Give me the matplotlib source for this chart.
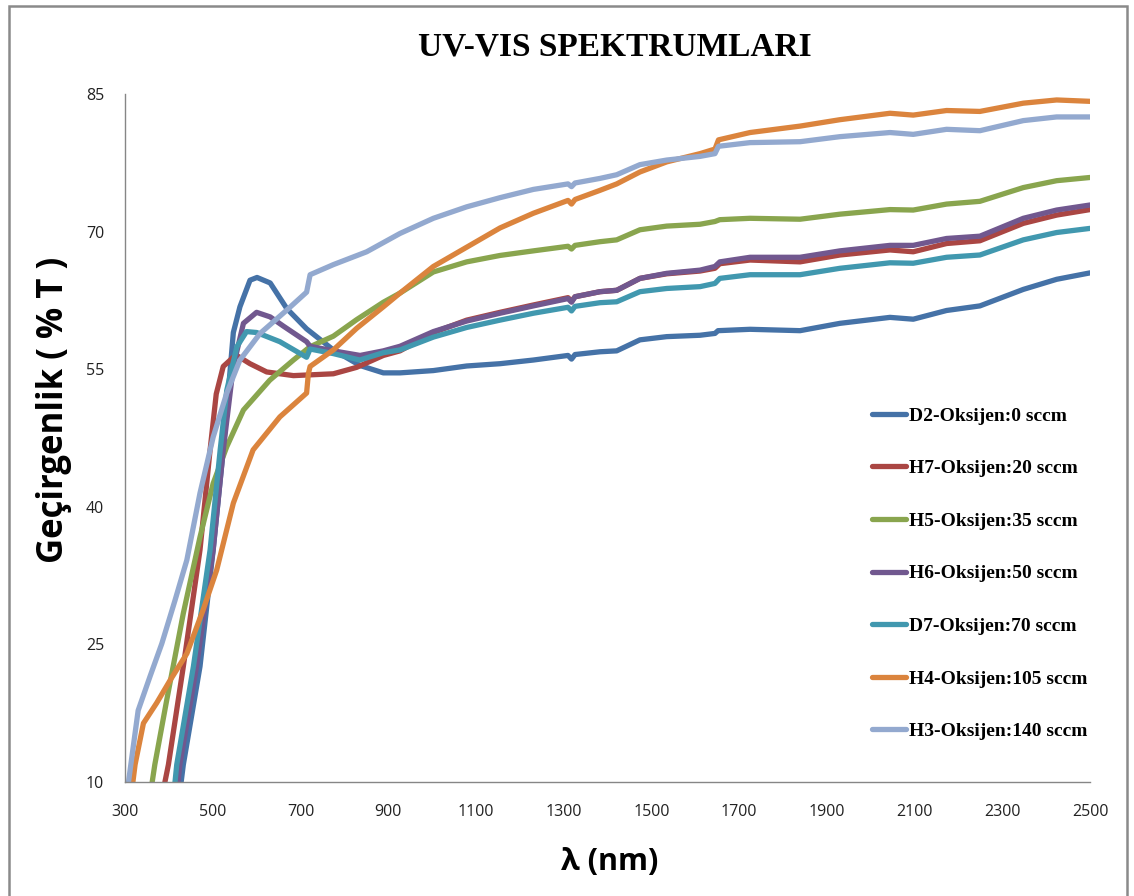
import matplotlib
matplotlib.use("Agg")
import matplotlib.pyplot as plt
from matplotlib.patches import Rectangle

# wavelength (nm) / transmittance (%T), one pair per sample
lam_d2 = [428, 433, 471, 501, 524, 539, 547, 562, 585, 601, 631, 669, 714, 775, 836, 889, 927, 1003, 1079,
          1155, 1231, 1310, 1318, 1326, 1383, 1421, 1474, 1535, 1611, 1645, 1652, 1725, 1839, 1930, 2044,
          2097, 2173, 2249, 2348, 2424, 2500]
t_d2 = [10, 11.9, 22.6, 35.3, 46.2, 54.5, 59.0, 61.8, 64.7, 65.0, 64.4, 61.6, 59.4, 57.1, 55.4, 54.6, 54.6,
        54.85, 55.35, 55.6, 56.0, 56.5, 56.1, 56.6, 56.9, 57.0, 58.2, 58.55, 58.7, 58.9, 59.2, 59.35, 59.2,
        60.0, 60.65, 60.45, 61.4, 61.9, 63.7, 64.8, 65.5]

lam_h7 = [391, 399, 433, 471, 494, 508, 524, 547, 558, 585, 623, 684, 775, 828, 889, 927, 1003, 1079, 1155,
          1231, 1310, 1318, 1326, 1383, 1421, 1474, 1535, 1611, 1645, 1656, 1725, 1839, 1930, 2044, 2097,
          2173, 2249, 2348, 2424, 2500]
t_h7 = [10, 11.9, 22.6, 35.3, 46.2, 52.3, 55.3, 56.3, 56.4, 55.6, 54.7, 54.3, 54.5, 55.2, 56.5, 57.0, 59.0,
        60.35, 61.2, 62.0, 62.8, 62.4, 62.9, 63.45, 63.6, 64.9, 65.4, 65.7, 66.0, 66.5, 66.9, 66.7, 67.45,
        68.0, 67.8, 68.7, 69.0, 70.9, 71.8, 72.4]

lam_h5 = [362, 368, 395, 433, 471, 501, 532, 570, 630, 684, 722, 775, 828, 889, 927, 1003, 1079, 1155, 1231,
          1310, 1318, 1326, 1383, 1421, 1474, 1535, 1611, 1645, 1656, 1725, 1839, 1930, 2044, 2097, 2173,
          2249, 2348, 2424, 2500]
t_h5 = [10, 11.9, 18.9, 28.4, 36.7, 42.55, 46.55, 50.55, 53.8, 56.0, 57.45, 58.6, 60.4, 62.3, 63.3, 65.6,
        66.7, 67.4, 67.9, 68.4, 68.1, 68.5, 68.9, 69.1, 70.2, 70.6, 70.8, 71.1, 71.3, 71.45, 71.35, 71.9,
        72.4, 72.35, 73.0, 73.3, 74.8, 75.55, 75.9]

lam_h6 = [421, 425, 463, 501, 524, 547, 570, 600, 631, 661, 714, 722, 775, 836, 889, 927, 1003, 1079, 1155,
          1231, 1310, 1318, 1326, 1383, 1421, 1474, 1535, 1611, 1645, 1656, 1725, 1839, 1930, 2044, 2097,
          2173, 2249, 2348, 2424, 2500]
t_h6 = [10, 11.9, 22.6, 35.3, 46.2, 55.3, 60.0, 61.2, 60.7, 59.7, 58.0, 57.5, 57.0, 56.5, 57.0, 57.5, 59.1,
        60.25, 61.1, 61.9, 62.7, 62.3, 62.9, 63.45, 63.6, 64.9, 65.45, 65.8, 66.2, 66.7, 67.2, 67.2, 67.9,
        68.5, 68.5, 69.25, 69.5, 71.45, 72.35, 72.9]

lam_d7 = [414, 418, 456, 494, 517, 532, 555, 577, 600, 653, 714, 722, 775, 835, 889, 927, 1003, 1079, 1155,
          1231, 1310, 1318, 1326, 1383, 1421, 1474, 1535, 1611, 1645, 1656, 1725, 1839, 1930, 2044, 2097,
          2173, 2249, 2348, 2424, 2500]
t_d7 = [10, 11.9, 22.6, 35.3, 46.2, 52.7, 57.45, 59.1, 59.0, 58.0, 56.3, 57.2, 56.7, 56.0, 56.8, 57.1, 58.5,
        59.55, 60.35, 61.1, 61.75, 61.35, 61.85, 62.25, 62.35, 63.45, 63.8, 64.0, 64.35, 64.9, 65.3, 65.3,
        66.0, 66.6, 66.55, 67.2, 67.45, 69.1, 69.9, 70.35]

lam_h4 = [318, 323, 342, 372, 403, 441, 478, 509, 547, 592, 653, 714, 718, 722, 775, 828, 889, 927, 1003,
          1079, 1155, 1231, 1310, 1318, 1326, 1383, 1421, 1474, 1535, 1611, 1645, 1653, 1725, 1839, 1930,
          2044, 2097, 2173, 2249, 2348, 2424, 2500]
t_h4 = [10, 11.9, 16.4, 18.6, 21.1, 24.0, 28.75, 33.1, 40.4, 46.2, 49.8, 52.4, 54.5, 55.3, 57.1, 59.45,
        61.8, 63.3, 66.2, 68.3, 70.4, 72.0, 73.4, 73.0, 73.5, 74.5, 75.2, 76.5, 77.6, 78.5, 79.0, 80.0, 80.8,
        81.5, 82.2, 82.9, 82.7, 83.2, 83.1, 84.0, 84.35, 84.2]

lam_h3 = [308, 315, 330, 357, 384, 414, 441, 471, 501, 532, 562, 608, 669, 714, 722, 775, 851, 927, 1003,
          1079, 1155, 1231, 1310, 1318, 1326, 1383, 1421, 1474, 1535, 1611, 1645, 1653, 1725, 1839, 1930,
          2044, 2097, 2173, 2249, 2348, 2424, 2500]
t_h3 = [10, 12.5, 17.8, 21.5, 25.1, 29.8, 34.2, 41.5, 47.6, 52.4, 56.0, 58.9, 61.45, 63.4, 65.3, 66.4,
        67.8, 69.8, 71.45, 72.7, 73.7, 74.6, 75.2, 74.9, 75.3, 75.8, 76.2, 77.3, 77.8, 78.2, 78.5, 79.3,
        79.7, 79.8, 80.35, 80.8, 80.6, 81.15, 81.0, 82.1, 82.5, 82.5]

labels = ["D2-Oksijen:0 sccm", "H7-Oksijen:20 sccm", "H5-Oksijen:35 sccm", "H6-Oksijen:50 sccm",
          "D7-Oksijen:70 sccm", "H4-Oksijen:105 sccm", "H3-Oksijen:140 sccm"]
colors = ["#4572A7", "#AA4643", "#89A54E", "#71588F", "#4198AF", "#DB843D", "#93A9CF"]
series = [(lam_d2, t_d2), (lam_h7, t_h7), (lam_h5, t_h5), (lam_h6, t_h6),
          (lam_d7, t_d7), (lam_h4, t_h4), (lam_h3, t_h3)]

x_ticks = list(range(300, 2501, 200))
y_ticks = [10, 25, 40, 55, 70, 85]

tick_font = ["Liberation Sans Narrow", "Open Sans", "DejaVu Sans"]
label_font = ["Open Sans", "DejaVu Sans"]
serif_font = ["Liberation Serif", "DejaVu Serif"]

fig = plt.figure(figsize=(11.34, 8.96), dpi=100)
ax = fig.add_axes([125 / 1134, 1 - 782 / 896, 965 / 1134, 688 / 896])

for (xs, ys), c, lab in zip(series, colors, labels):
    ax.plot(xs, ys, color=c, lw=3.8, label=lab, solid_capstyle="round", solid_joinstyle="round")

ax.set_xlim(300, 2500)
ax.set_ylim(10, 85)
ax.set_xticks(x_ticks)
ax.set_yticks(y_ticks)
ax.tick_params(length=0, labelsize=11.5, colors="#222222")
ax.tick_params(axis="x", pad=16)
ax.tick_params(axis="y", pad=15)
for t in ax.get_xticklabels() + ax.get_yticklabels():
    t.set_family(tick_font)
for s in ["top", "right"]:
    ax.spines[s].set_visible(False)
for s in ["left", "bottom"]:
    ax.spines[s].set_color("#868686")
    ax.spines[s].set_linewidth(1.0)

fig.text(615 / 1134, 1 - 47 / 896, "UV-VIS SPEKTRUMLARI", ha="center", va="center",
         fontsize=24, fontweight="bold", family=serif_font)
fig.text(54 / 1134, 1 - 410 / 896, "Geçirgenlik ( % T )", ha="center", va="center", rotation=90,
         fontsize=25, fontweight="bold", family=label_font)
fig.text(610 / 1134, 1 - 862 / 896, "λ (nm)", ha="center", va="center",
         fontsize=22, fontweight="bold", family=label_font)

leg = fig.legend(loc="upper left", bbox_to_anchor=(872 / 1134, 1 - 407 / 896), frameon=False,
                 prop={"family": serif_font, "weight": "bold", "size": 14},
                 handlelength=1.75, handletextpad=0.15, labelspacing=1.8, borderpad=0, borderaxespad=0)

# outer chart border (Excel chart area)
fig.patches.append(Rectangle((9 / 1134, -0.05), 1118 / 1134, (890 / 896) + 0.05, transform=fig.transFigure,
                             fill=False, edgecolor="#8a8a8a", lw=1.8))

fig.savefig("out.png", dpi=100)
